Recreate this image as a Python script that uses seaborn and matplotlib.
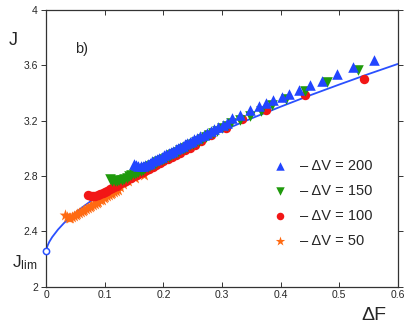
import matplotlib
matplotlib.use("Agg")
import matplotlib.pyplot as plt
import seaborn as sns
from matplotlib.ticker import FormatStrFormatter

# fitted curve J(dF)
curve_dF = [0, 0.002, 0.005, 0.01, 0.02, 0.03, 0.04, 0.06, 0.08, 0.10, 0.125, 0.15,
            0.20, 0.25, 0.30, 0.35, 0.40, 0.45, 0.50, 0.55, 0.60]
curve_J = [2.26, 2.295, 2.323, 2.358, 2.413, 2.459, 2.499, 2.569, 2.631, 2.689, 2.754, 2.816,
           2.928, 3.031, 3.126, 3.216, 3.301, 3.383, 3.461, 3.537, 3.61]

# -dV = 200
dv200_dF = [0.149, 0.153, 0.157, 0.161, 0.165, 0.169, 0.173, 0.177, 0.181, 0.185, 0.189, 0.193,
            0.197, 0.201, 0.205, 0.209, 0.213, 0.217, 0.221, 0.225, 0.229, 0.233, 0.237, 0.241,
            0.245, 0.249, 0.253, 0.258, 0.263, 0.269, 0.275, 0.281, 0.287, 0.294, 0.301, 0.309,
            0.317, 0.331, 0.348, 0.364, 0.376, 0.388, 0.402, 0.415, 0.431, 0.451, 0.471, 0.496,
            0.524, 0.560]
dv200_J = [2.890, 2.878, 2.873, 2.873, 2.876, 2.882, 2.889, 2.897, 2.905, 2.914, 2.922, 2.931,
           2.940, 2.949, 2.958, 2.967, 2.976, 2.984, 2.993, 3.002, 3.011, 3.020, 3.029, 3.038,
           3.047, 3.056, 3.065, 3.076, 3.087, 3.100, 3.113, 3.126, 3.139, 3.154, 3.169, 3.186,
           3.218, 3.240, 3.280, 3.307, 3.326, 3.350, 3.370, 3.395, 3.420, 3.456, 3.490, 3.536,
           3.590, 3.640]

# -dV = 150
dv150_dF = [0.109, 0.113, 0.117, 0.121, 0.125, 0.129, 0.133, 0.137, 0.141, 0.145, 0.149, 0.153,
            0.157, 0.161, 0.165, 0.169, 0.173, 0.177, 0.181, 0.185, 0.189, 0.193, 0.197, 0.201,
            0.205, 0.209, 0.213, 0.217, 0.221, 0.225, 0.229, 0.233, 0.237, 0.241, 0.245, 0.250,
            0.255, 0.260, 0.266, 0.272, 0.278, 0.285, 0.292, 0.300, 0.308, 0.316, 0.331, 0.348,
            0.366, 0.386, 0.410, 0.442, 0.479, 0.533]
dv150_J = [2.775, 2.765, 2.762, 2.764, 2.768, 2.774, 2.781, 2.789, 2.797, 2.805, 2.813, 2.821,
           2.830, 2.838, 2.847, 2.855, 2.864, 2.872, 2.881, 2.889, 2.898, 2.906, 2.915, 2.923,
           2.932, 2.941, 2.950, 2.959, 2.968, 2.977, 2.986, 2.995, 3.004, 3.013, 3.022, 3.033,
           3.044, 3.055, 3.068, 3.082, 3.095, 3.111, 3.127, 3.145, 3.163, 3.180, 3.205, 3.235,
           3.270, 3.310, 3.360, 3.415, 3.480, 3.567]

# -dV = 100
dv100_dF = [0.072, 0.076, 0.080, 0.084, 0.088, 0.092, 0.096, 0.100, 0.104, 0.108, 0.112, 0.116,
            0.120, 0.124, 0.128, 0.132, 0.136, 0.140, 0.145, 0.150, 0.155, 0.160, 0.165, 0.170,
            0.176, 0.182, 0.188, 0.194, 0.200, 0.207, 0.214, 0.221, 0.229, 0.237, 0.245, 0.254,
            0.265, 0.282, 0.307, 0.335, 0.376, 0.441, 0.542]
dv100_J = [2.663, 2.656, 2.654, 2.656, 2.661, 2.668, 2.676, 2.685, 2.694, 2.703, 2.712, 2.721,
           2.730, 2.739, 2.748, 2.757, 2.766, 2.775, 2.786, 2.797, 2.808, 2.819, 2.830, 2.841,
           2.854, 2.867, 2.880, 2.893, 2.905, 2.921, 2.936, 2.952, 2.970, 2.988, 3.006, 3.026,
           3.052, 3.100, 3.150, 3.210, 3.280, 3.384, 3.504]

# -dV = 50
dv50_dF = [0.032, 0.035, 0.038, 0.041, 0.044, 0.047, 0.050, 0.053, 0.056, 0.059, 0.062, 0.065,
           0.068, 0.071, 0.074, 0.077, 0.080, 0.083, 0.086, 0.089, 0.092, 0.095, 0.098, 0.101,
           0.104, 0.107, 0.110, 0.113, 0.116, 0.119, 0.122, 0.126, 0.131, 0.140, 0.151, 0.166]
dv50_J = [2.515, 2.505, 2.499, 2.497, 2.503, 2.510, 2.518, 2.525, 2.533, 2.540, 2.548, 2.555,
          2.563, 2.570, 2.578, 2.585, 2.593, 2.600, 2.608, 2.615, 2.623, 2.630, 2.638, 2.645,
          2.653, 2.660, 2.668, 2.675, 2.683, 2.690, 2.698, 2.720, 2.745, 2.765, 2.785, 2.810]

labels = ["\u2013 \u0394V = 200", "\u2013 \u0394V = 150", "\u2013 \u0394V = 100", "\u2013 \u0394V = 50"]
colors = ["#2245ff", "#1f9a0c", "#f21616", "#ff6a12"]
markers = ["^", "v", "o", "*"]
sizes = [58, 58, 46, 80]
series = [(dv200_dF, dv200_J), (dv150_dF, dv150_J), (dv100_dF, dv100_J), (dv50_dF, dv50_J)]

sns.set_style("ticks")
plt.rcParams["font.family"] = ["Liberation Sans", "DejaVu Sans"]
plt.rcParams["mathtext.fontset"] = "custom"
plt.rcParams["mathtext.rm"] = "Liberation Sans"

fig = plt.figure(figsize=(4.09, 3.25), dpi=100)
ax = fig.add_axes([0.1132, 0.118, 0.859, 0.851])

sns.lineplot(x=curve_dF, y=curve_J, color="#2a50ff", lw=1.3, sort=False, ax=ax)
ax.plot(curve_dF[:1], curve_J[:1], "o", mfc="white", mec="#2a50ff", ms=4.5, mew=1.1,
        zorder=5, clip_on=False)

for i in [3, 2, 1, 0]:
    x, y = series[i]
    sns.scatterplot(x=x, y=y, color=colors[i], marker=markers[i], s=sizes[i],
                    linewidth=0, label=labels[i], ax=ax, zorder=3)
h, l = ax.get_legend_handles_labels()
lookup = dict(zip(l, h))
ax.legend([lookup[k] for k in labels], labels, loc="center left",
          bbox_to_anchor=(0.645, 0.30), frameon=False, fontsize=10.5,
          handlelength=1.0, handletextpad=0.85, labelspacing=0.75,
          borderpad=0, borderaxespad=0, markerscale=0.8)

ax.set_xlim(0, 0.6)
ax.set_ylim(2, 4)
ax.set_xticks([0, 0.1, 0.2, 0.3, 0.4, 0.5, 0.6])
ax.set_yticks([2, 2.4, 2.8, 3.2, 3.6, 4])
ax.xaxis.set_major_formatter(FormatStrFormatter("%g"))
ax.yaxis.set_major_formatter(FormatStrFormatter("%g"))
ax.tick_params(direction="in", top=True, right=True, length=3.5, width=0.7,
               labelsize=7.5, pad=2.5, color="#333333")
ax.tick_params(axis="y", direction="out")
for sp in ax.spines.values():
    sp.set_visible(True)
    sp.set_linewidth(0.9)
    sp.set_color("#333333")
ax.set_xlabel("")
ax.set_ylabel("")

fig.text(0.022, 0.8615, "J", fontsize=13, ha="left", va="baseline")
fig.text(0.029, 0.178, r"$\mathregular{J_{lim}}$", fontsize=12.5, ha="left", va="baseline")
fig.text(0.883, 0.004, "\u0394F", fontsize=14, ha="left", va="bottom")
fig.text(0.183, 0.837, "b)", fontsize=10.5, ha="left", va="baseline")

fig.savefig("out.png", dpi=100)
